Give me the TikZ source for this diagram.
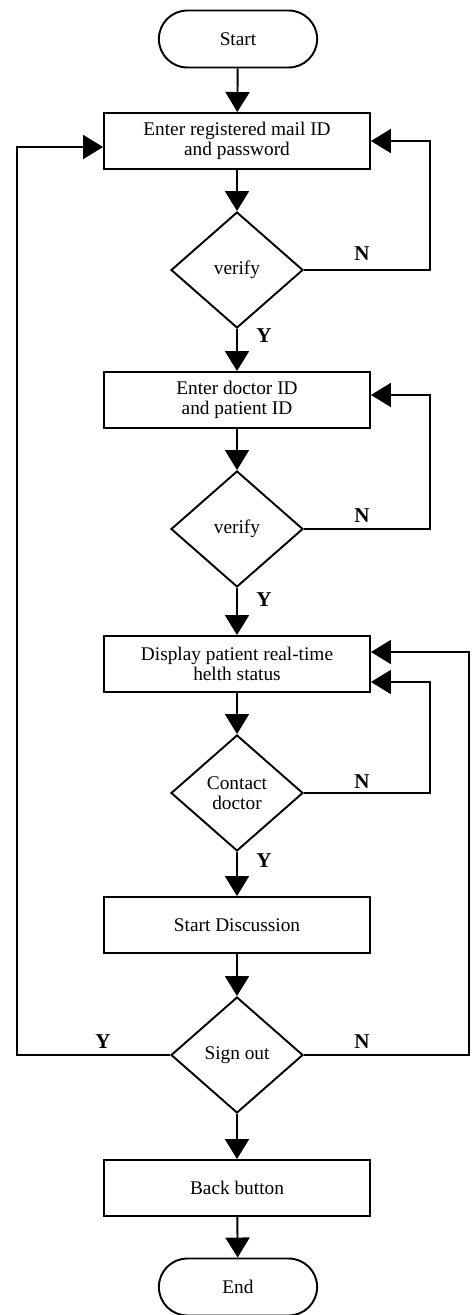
\documentclass[tikz,border=0pt]{standalone}
\usepackage{fontspec}
\setmainfont{Liberation Serif}
\usetikzlibrary{shapes.geometric,shapes.misc,arrows.meta}

\tikzset{
  term/.style={draw, rounded rectangle, minimum width=3.4cm, minimum height=1.14cm, line width=1.1pt},
  proc/.style={draw, rectangle, minimum width=5.32cm, minimum height=1.12cm, align=center, line width=1.1pt},
  test/.style={draw, diamond, minimum width=2.64cm, minimum height=2.32cm, inner sep=0pt, align=center, line width=1.1pt},
  yn/.style={font=\bfseries\fontsize{12}{12}\selectfont},
  flow/.style={-{Triangle[length=0.4cm,width=0.48cm]}, line width=1.1pt},
}

\begin{document}
\begin{tikzpicture}[x=0.02cm, y=-0.02cm, font=\fontsize{11}{11.5}\selectfont]

    \useasboundingbox (0,0) rectangle (471,1315);

    \node[term] (s) at (238, 39) {Start};
    \node[proc] (b1) at (237, 141) {Enter registered mail ID\\and password};
    \node[test] (d1) at (237, 270) {verify};
    \node[proc] (b2) at (237, 400) {Enter doctor ID\\and patient ID};
    \node[test] (d2) at (237, 529) {verify};
    \node[proc] (b3) at (237, 664) {Display patient real-time\\helth status};
    \node[test] (d3) at (237, 793) {Contact\\doctor};
    \node[proc] (b4) at (237, 925) {Start Discussion};
    \node[test] (d4) at (237, 1055) {Sign out};
    \node[proc] (b5) at (237, 1188) {Back button};
    \node[term] (e) at (238, 1287) {End};

    \node[yn] (y1) at (264, 336) {Y};
    \node[yn] (n1) at (362, 254) {N};
    \node[yn] (y2) at (264, 600) {Y};
    \node[yn] (n2) at (362, 516) {N};
    \node[yn] (y3) at (264, 861) {Y};
    \node[yn] (n3) at (362, 782) {N};
    \node[yn] (y4) at (103, 1042) {Y};
    \node[yn] (n4) at (362, 1042) {N};

    \coordinate (r1) at (430, 141);
    \coordinate (r2) at (430, 395);
    \coordinate (r3) at (430, 682);
    \coordinate (r4) at (469, 652);
    \coordinate (l4) at (17, 147);

    \draw [flow] (s) -- (b1);
    \draw [flow] (b1) -- (d1);
    \draw [flow] (d1) -- (b2);
    \draw [flow] (b2) -- (d2);
    \draw [flow] (d2) -- (b3);
    \draw [flow] (b3) -- (d3);
    \draw [flow] (d3) -- (b4);
    \draw [flow] (b4) -- (d4);
    \draw [flow] (d4) -- (b5);
    \draw [flow] (b5) -- (e);

    \draw [flow] (d1.east) -| (r1) -- (r1 -| b1.east);
    \draw [flow] (d2.east) -| (r2) -- (r2 -| b2.east);
    \draw [flow] (d3.east) -| (r3) -- (r3 -| b3.east);
    \draw [flow] (d4.east) -| (r4) -- (r4 -| b3.east);
    \draw [flow] (d4.west) -| (l4) -- (l4 -| b1.west);

\end{tikzpicture}
\end{document}
